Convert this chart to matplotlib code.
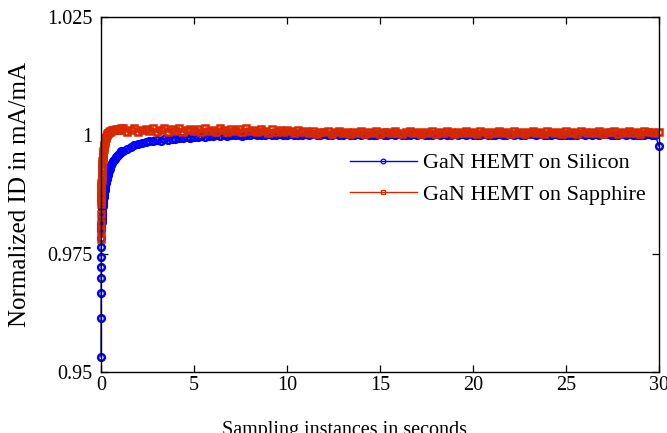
import matplotlib
matplotlib.use("Agg")
import matplotlib.pyplot as plt

# ---------------- data ----------------
time_s = [
    # first second: fast start-up sampling
    0.000, 0.002, 0.004, 0.006, 0.008, 0.010, 0.012, 0.014, 0.016, 0.020,
    0.025, 0.030, 0.035, 0.040, 0.050, 0.060, 0.070, 0.080, 0.090, 0.100,
    0.115, 0.130, 0.145, 0.160, 0.180, 0.200, 0.220, 0.240, 0.260, 0.285,
    0.310, 0.340, 0.370, 0.400, 0.435, 0.470, 0.510, 0.550, 0.600, 0.650,
    0.700, 0.750, 0.800, 0.850, 0.900, 0.950, 1.000, 1.050, 1.100,
    # 1.2 s .. 30 s
    1.2, 1.4, 1.6, 1.8, 2.0, 2.2, 2.4, 2.6, 2.8, 3.0,
    3.2, 3.4, 3.6, 3.8, 4.0, 4.2, 4.4, 4.6, 4.8, 5.0,
    5.2, 5.4, 5.6, 5.8, 6.0, 6.2, 6.4, 6.6, 6.8, 7.0,
    7.2, 7.4, 7.6, 7.8, 8.0, 8.2, 8.4, 8.6, 8.8, 9.0,
    9.2, 9.4, 9.6, 9.8, 10.0, 10.2, 10.4, 10.6, 10.8, 11.0,
    11.2, 11.4, 11.6, 11.8, 12.0, 12.2, 12.4, 12.6, 12.8, 13.0,
    13.2, 13.4, 13.6, 13.8, 14.0, 14.2, 14.4, 14.6, 14.8, 15.0,
    15.2, 15.4, 15.6, 15.8, 16.0, 16.2, 16.4, 16.6, 16.8, 17.0,
    17.2, 17.4, 17.6, 17.8, 18.0, 18.2, 18.4, 18.6, 18.8, 19.0,
    19.2, 19.4, 19.6, 19.8, 20.0, 20.2, 20.4, 20.6, 20.8, 21.0,
    21.2, 21.4, 21.6, 21.8, 22.0, 22.2, 22.4, 22.6, 22.8, 23.0,
    23.2, 23.4, 23.6, 23.8, 24.0, 24.2, 24.4, 24.6, 24.8, 25.0,
    25.2, 25.4, 25.6, 25.8, 26.0, 26.2, 26.4, 26.6, 26.8, 27.0,
    27.2, 27.4, 27.6, 27.8, 28.0, 28.2, 28.4, 28.6, 28.8, 29.0,
    29.2, 29.4, 29.6, 29.8, 30.0,
]

id_silicon = [
    0.9532, 0.9614, 0.9667, 0.9699, 0.9722, 0.9744, 0.9765, 0.9784, 0.9801, 0.9806,
    0.9812, 0.9817, 0.9821, 0.9825, 0.9831, 0.9836, 0.9841, 0.9846, 0.9850, 0.9854,
    0.9860, 0.9865, 0.9870, 0.9874, 0.9880, 0.9885, 0.9890, 0.9895, 0.9899, 0.9904,
    0.9908, 0.9913, 0.9917, 0.9921, 0.9925, 0.9929, 0.9933, 0.9937, 0.9941, 0.9945,
    0.9948, 0.9951, 0.9954, 0.9957, 0.9959, 0.9961, 0.9963, 0.9965, 0.9966,
    0.9966, 0.9972, 0.9975, 0.9979, 0.9981, 0.9984, 0.9985, 0.9988, 0.9987, 0.9990,
    0.9989, 0.9992, 0.9991, 0.9993, 0.9992, 0.9995, 0.9994, 0.9996, 0.9995, 0.9997,
    0.9997, 0.9998, 0.9997, 0.9999, 0.9998, 1.0000, 0.9999, 1.0000, 0.9999, 1.0001,
    1.0000, 1.0001, 0.9999, 1.0001, 1.0000, 1.0002, 1.0000, 1.0001, 1.0000, 1.0002,
    1.0001, 1.0000, 1.0002, 1.0001, 1.0000, 1.0002, 1.0001, 1.0001, 1.0000, 1.0002,
    1.0001, 1.0002, 1.0000, 1.0001, 1.0002, 1.0001, 1.0000, 1.0002, 1.0001, 1.0001,
    1.0002, 1.0000, 1.0001, 1.0002, 1.0001, 1.0002, 1.0000, 1.0001, 1.0001, 1.0002,
    1.0001, 1.0000, 1.0002, 1.0001, 1.0002, 1.0001, 1.0000, 1.0001, 1.0002, 1.0001,
    1.0002, 1.0001, 1.0001, 1.0000, 1.0002, 1.0001, 1.0002, 1.0000, 1.0001, 1.0002,
    1.0000, 1.0002, 1.0001, 1.0002, 1.0001, 1.0000, 1.0001, 1.0002, 1.0001, 1.0001,
    1.0001, 1.0002, 1.0000, 1.0001, 1.0002, 1.0001, 1.0002, 1.0001, 1.0000, 1.0002,
    1.0002, 1.0001, 1.0002, 1.0000, 1.0001, 1.0001, 1.0002, 1.0001, 1.0000, 1.0001,
    1.0001, 1.0000, 1.0001, 1.0002, 1.0001, 1.0002, 1.0000, 1.0002, 1.0001, 1.0002,
    1.0002, 1.0001, 1.0000, 1.0001, 1.0002, 1.0001, 1.0002, 1.0001, 1.0001, 1.0000,
    1.0001, 1.0002, 1.0001, 1.0000, 0.9977,
]

id_sapphire = [
    0.9780, 0.9797, 0.9815, 0.9833, 0.9854, 0.9862, 0.9870, 0.9877, 0.9884, 0.9892,
    0.9899, 0.9906, 0.9912, 0.9918, 0.9926, 0.9933, 0.9939, 0.9945, 0.9950, 0.9955,
    0.9961, 0.9966, 0.9971, 0.9975, 0.9980, 0.9984, 0.9988, 0.9991, 0.9994, 0.9997,
    1.0000, 1.0002, 1.0004, 1.0005, 1.0007, 1.0008, 1.0009, 1.0010, 1.0011, 1.0011,
    1.0012, 1.0012, 1.0013, 1.0012, 1.0014, 1.0012, 1.0014, 1.0011, 1.0015,
    1.0015, 1.0008, 1.0012, 1.0016, 1.0007, 1.0011, 1.0014, 1.0009, 1.0016, 1.0006,
    1.0012, 1.0015, 1.0008, 1.0013, 1.0010, 1.0016, 1.0007, 1.0011, 1.0014, 1.0009,
    1.0013, 1.0006, 1.0015, 1.0010, 1.0012, 1.0008, 1.0016, 1.0011, 1.0007, 1.0014,
    1.0010, 1.0013, 1.0006, 1.0015, 1.0009, 1.0012, 1.0007, 1.0014, 1.0010, 1.0005,
    1.0013, 1.0008, 1.0011, 1.0006, 1.0012, 1.0009, 1.0004, 1.0011, 1.0007, 1.0010,
    1.0005, 1.0009, 1.0003, 1.0008, 1.0006, 1.0009, 1.0003, 1.0007, 1.0010, 1.0004,
    1.0006, 1.0002, 1.0008, 1.0005, 1.0010, 1.0003, 1.0007, 1.0005, 1.0009, 1.0002,
    1.0006, 1.0008, 1.0004, 1.0010, 1.0005, 1.0003, 1.0007, 1.0009, 1.0004, 1.0006,
    1.0002, 1.0008, 1.0005, 1.0010, 1.0003, 1.0007, 1.0004, 1.0009, 1.0006, 1.0002,
    1.0008, 1.0005, 1.0010, 1.0004, 1.0007, 1.0003, 1.0009, 1.0006, 1.0002, 1.0008,
    1.0005, 1.0010, 1.0004, 1.0007, 1.0003, 1.0009, 1.0005, 1.0006, 1.0002, 1.0008,
    1.0010, 1.0004, 1.0007, 1.0003, 1.0009, 1.0006, 1.0004, 1.0008, 1.0003, 1.0010,
    1.0005, 1.0007, 1.0002, 1.0009, 1.0006, 1.0004, 1.0008, 1.0005, 1.0010, 1.0003,
    1.0007, 1.0006, 1.0009, 1.0002, 1.0008, 1.0005, 1.0009, 1.0004, 1.0007, 1.0003,
    1.0010, 1.0006, 1.0008, 1.0004, 1.0006,
]

series_labels = ["GaN HEMT on Silicon", "GaN HEMT on Sapphire"]
x_ticks = [0, 5, 10, 15, 20, 25, 30]
y_ticks = [0.95, 0.975, 1.0, 1.025]
y_tick_labels = ["0.95", "0.975", "1", "1.025"]

# ---------------- figure ----------------
plt.rcParams["font.family"] = ["Liberation Serif", "DejaVu Serif"]

W, H = 667, 433
fig = plt.figure(figsize=(W / 100, H / 100), dpi=100)
ax = fig.add_axes([101 / W, 1 - 372 / H, (659 - 101) / W, (372 - 17) / H])

blue = "#0000FF"
red = "#D82800"

ax.plot(time_s, id_silicon, color=blue, lw=1.0, marker="o", ms=4.8,
        mfc="none", mec=blue, mew=1.8, label=series_labels[0], clip_on=False)
ax.plot(time_s, id_sapphire, color=red, lw=1.0, marker="s", ms=4.8,
        mfc="none", mec=red, mew=1.8, label=series_labels[1], clip_on=False)

ax.set_xlim(0, 30)
ax.set_ylim(0.95, 1.025)
ax.set_xticks(x_ticks)
ax.set_xticklabels([str(v) for v in x_ticks])
ax.set_yticks(y_ticks)
ax.set_yticklabels(y_tick_labels)

ax.tick_params(direction="in", length=5, width=0.9, top=True, right=True,
               labelsize=14.5, colors="black")
ax.tick_params(axis="y", pad=6)
ax.tick_params(axis="x", pad=3)
for s in ax.spines.values():
    s.set_linewidth(1.0)
    s.set_color("black")

ax.set_xlabel("Sampling instances in seconds", fontsize=14.5, va="top")
ax.xaxis.set_label_coords((345 - 101) / 558, -(421 - 372) / 355)
ax.set_ylabel("Normalized ID in mA/mA", fontsize=18, va="center")
ax.yaxis.set_label_coords((20 - 101) / 558, 0.5)

leg = ax.legend(loc="center left", bbox_to_anchor=(350 / W, 1 - 179 / H),
                bbox_transform=fig.transFigure, frameon=False, fontsize=16,
                borderpad=0, borderaxespad=0, handlelength=3.0,
                handletextpad=0.28, labelspacing=0.5, markerscale=0.7)
for h in leg.legend_handles:
    h.set_markeredgewidth(0.9)

fig.savefig("out.png", dpi=100)
